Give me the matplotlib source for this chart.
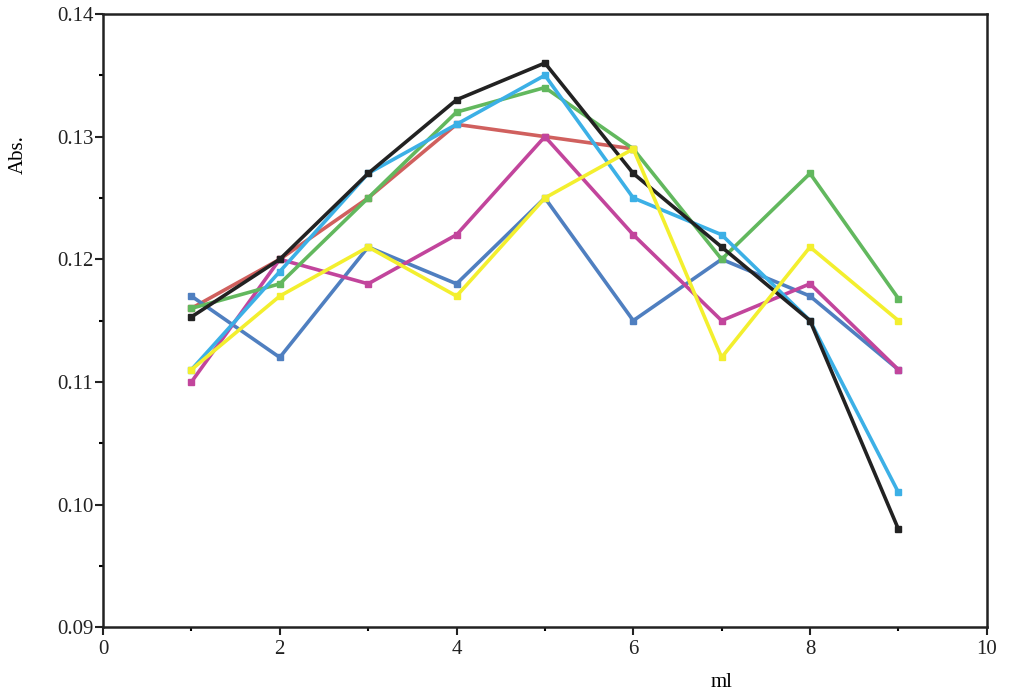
import matplotlib
matplotlib.use("Agg")
import matplotlib.pyplot as plt
from matplotlib.ticker import MultipleLocator, FormatStrFormatter

plt.rcParams['font.family'] = ['Liberation Serif', 'DejaVu Serif']

# volume (ml)
x = [1, 2, 3, 4, 5, 6, 7, 8, 9]
x_red = [1, 2, 3, 4, 5, 6]

# absorbance series
red = [0.116, 0.120, 0.125, 0.131, 0.130, 0.129]
blue = [0.117, 0.112, 0.121, 0.118, 0.125, 0.115, 0.120, 0.117, 0.111]
magenta = [0.110, 0.120, 0.118, 0.122, 0.130, 0.122, 0.115, 0.118, 0.111]
green = [0.116, 0.118, 0.125, 0.132, 0.134, 0.129, 0.120, 0.127, 0.1168]
cyan = [0.111, 0.119, 0.127, 0.131, 0.135, 0.125, 0.122, 0.115, 0.101]
black = [0.1153, 0.120, 0.127, 0.133, 0.136, 0.127, 0.121, 0.115, 0.098]
yellow = [0.111, 0.117, 0.121, 0.117, 0.125, 0.129, 0.112, 0.121, 0.115]

fig = plt.figure(figsize=(10.1, 6.97), dpi=100)
ax = fig.add_axes([0.102, 0.100, 0.875, 0.880])

style = dict(lw=2.6, marker='s', ms=5)
ax.plot(x_red, red, color='#d0605e', **style)
ax.plot(x, blue, color='#4f7fc0', **style)
ax.plot(x, magenta, color='#c2459c', **style)
ax.plot(x, green, color='#62b85e', **style)
ax.plot(x, cyan, color='#3cb0e6', **style)
ax.plot(x, black, color='#222222', **style)
ax.plot(x, yellow, color='#f3ef2e', **style)

ax.set_xlim(0, 10)
ax.set_ylim(0.09, 0.14)
ax.xaxis.set_major_locator(MultipleLocator(2))
ax.xaxis.set_minor_locator(MultipleLocator(1))
ax.yaxis.set_major_locator(MultipleLocator(0.01))
ax.yaxis.set_minor_locator(MultipleLocator(0.005))
ax.yaxis.set_major_formatter(FormatStrFormatter('%.2f'))

for s in ax.spines.values():
    s.set_linewidth(1.8)
    s.set_color('#222222')
ax.tick_params(which='major', direction='out', length=6, width=1.5, labelsize=15, colors='#222222')
ax.tick_params(which='minor', direction='out', length=3, width=1.5)
ax.tick_params(axis='y', pad=1)

ax.set_xlabel('ml', fontsize=15)
ax.xaxis.set_label_coords(0.7, -0.075)
ax.set_ylabel('Abs.', fontsize=15)
ax.yaxis.set_label_coords(-0.085, 0.77)

fig.savefig('out.png', dpi=100)
